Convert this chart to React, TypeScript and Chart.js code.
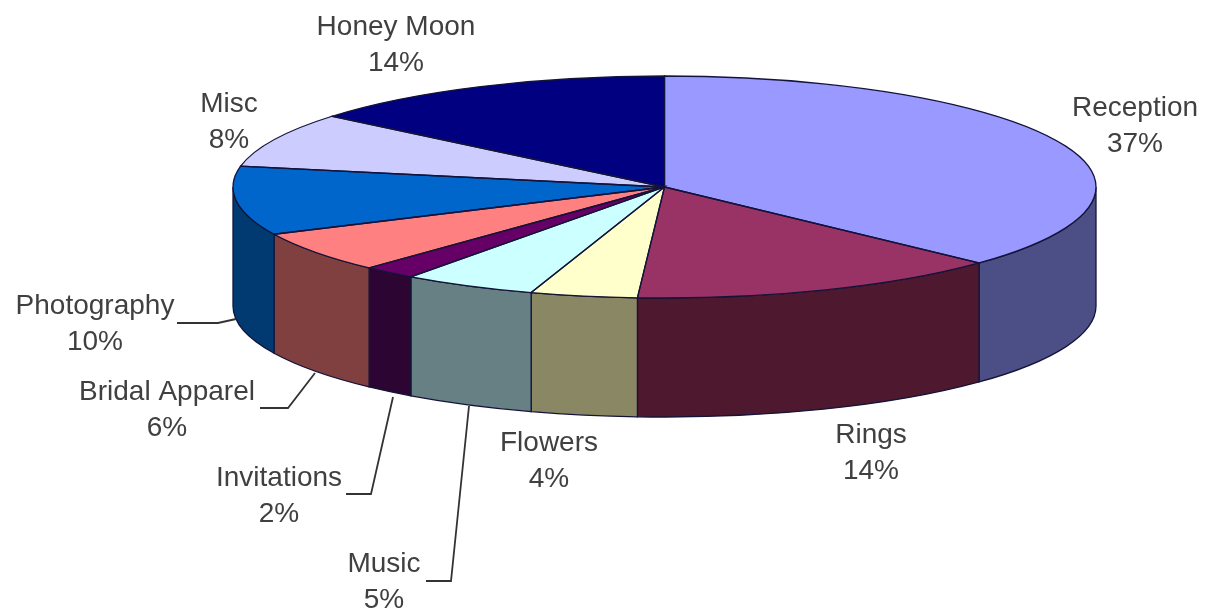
import React, { useEffect, useRef } from "react";
import { Chart, registerables } from "chart.js";

Chart.register(...registerables);

const categories = ["Reception", "Rings", "Flowers", "Music", "Invitations", "Bridal Apparel", "Photography", "Misc", "Honey Moon"];
const shares = [37, 14, 4, 5, 2, 6, 10, 8, 14];
const topColors = ["#9999FF", "#993366", "#FFFFCC", "#CCFFFF", "#660066", "#FF8080", "#0066CC", "#CCCCFF", "#000080"];
const wallColors = ["#4C4E86", "#4E182E", "#8A8864", "#668084", "#2C0533", "#804040", "#003A70", "#66668C", "#000040"];

// Layout only: label centres (first line middle) and leader lines.
const labelCentres: [number, number][] = [
  [1135, 108], [871, 435], [549, 443], [384, 564], [279, 478], [167, 392], [95, 306], [229, 104], [396, 27],
];
const leaders: ([number, number][] | null)[] = [
  null, null, null,
  [[426, 581], [451, 581], [469, 406]],
  [[346, 494], [371, 494], [393, 397]],
  [[260, 408], [288, 408], [315, 373]],
  [[177, 323], [218, 323], [236, 319]],
  null, null,
];

const TILT = 111 / 431.5;
const DEPTH = 119;
const LINE_GAP = 36;
const OUTLINE = "#14143a";

const pie3d = {
  id: "pie3d",
  beforeDatasetsDraw(chart: any) {
    const { ctx } = chart;
    const arcs = chart.getDatasetMeta(0).data;
    const first = arcs[0];
    const cx = first.x, cy = first.y, rx = first.outerRadius, ry = rx * TILT;
    arcs.forEach((arc: any, i: number) => {
      const s = Math.max(arc.startAngle, 0);
      const e = Math.min(arc.endAngle, Math.PI);
      if (e <= s) return;
      ctx.beginPath();
      ctx.ellipse(cx, cy, rx, ry, 0, s, e, false);
      ctx.ellipse(cx, cy + DEPTH, rx, ry, 0, e, s, true);
      ctx.closePath();
      ctx.fillStyle = wallColors[i];
      ctx.fill();
      ctx.lineWidth = 1.3;
      ctx.strokeStyle = OUTLINE;
      ctx.stroke();
    });
    ctx.save();
    ctx.translate(cx, cy);
    ctx.scale(1, TILT);
    ctx.translate(-cx, -cy);
  },
  afterDatasetsDraw(chart: any) {
    const { ctx } = chart;
    ctx.restore();
    const arcs = chart.getDatasetMeta(0).data;
    const cx = arcs[0].x, cy = arcs[0].y, rx = arcs[0].outerRadius, ry = rx * TILT;
    ctx.lineWidth = 1.3;
    ctx.strokeStyle = OUTLINE;
    arcs.forEach((arc: any) => {
      ctx.beginPath();
      ctx.moveTo(cx, cy);
      ctx.ellipse(cx, cy, rx, ry, 0, arc.startAngle, arc.endAngle, false);
      ctx.closePath();
      ctx.stroke();
    });
    ctx.save();
    ctx.strokeStyle = "#333333";
    ctx.lineWidth = 1.8;
    leaders.forEach((pts) => {
      if (!pts) return;
      ctx.beginPath();
      pts.forEach(([x, y], k) => (k ? ctx.lineTo(x, y) : ctx.moveTo(x, y)));
      ctx.stroke();
    });
    ctx.font = '28px "Liberation Sans", Arial, sans-serif';
    ctx.fillStyle = "#404040";
    ctx.textAlign = "center";
    ctx.textBaseline = "middle";
    categories.forEach((name, i) => {
      const [x, y] = labelCentres[i];
      ctx.fillText(name, x, y);
      ctx.fillText(`${shares[i]}%`, x, y + LINE_GAP);
    });
    ctx.restore();
  },
};

export default function App() {
  const ref = useRef<HTMLCanvasElement | null>(null);
  useEffect(() => {
    if (!ref.current) return;
    const chart = new Chart(ref.current, {
      type: "pie",
      data: {
        labels: categories,
        datasets: [{ data: shares, backgroundColor: topColors, borderWidth: 0, clip: false } as any],
      },
      options: {
        responsive: false,
        animation: false,
        radius: 431.5,
        layout: { padding: { left: 124, right: 0, top: 0, bottom: 235 } },
        plugins: { legend: { display: false }, tooltip: { enabled: false } },
        events: [],
      } as any,
      plugins: [pie3d],
    });
    return () => chart.destroy();
  }, []);
  return (
    <div style={{ position: "fixed", left: 0, top: 0, width: 1205, height: 609, background: "#fff", overflow: "hidden" }}>
      <canvas ref={ref} width={1205} height={609} style={{ display: "block", filter: "blur(0.6px)" }} />
    </div>
  );
}
